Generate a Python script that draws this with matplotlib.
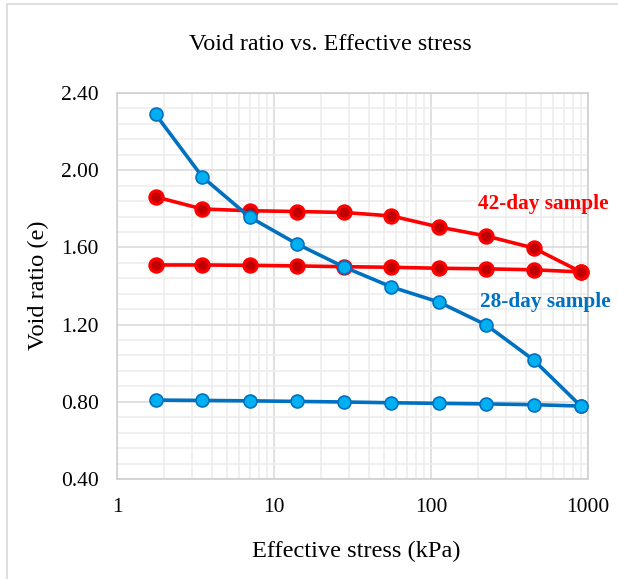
import matplotlib
matplotlib.use("Agg")
import matplotlib.pyplot as plt
from matplotlib.ticker import MultipleLocator, FixedLocator, NullFormatter, FixedFormatter
from matplotlib.patches import Rectangle

plt.rcParams['font.family'] = ['Liberation Serif', 'DejaVu Serif']

# Data
stress = [1.76, 3.5, 7, 14, 28, 56, 112, 225, 450, 900]
e28_load = [2.29, 1.965, 1.757, 1.618, 1.498, 1.395, 1.317, 1.198, 1.017, 0.778]
e28_unload = [0.809, 0.807, 0.805, 0.802, 0.799, 0.795, 0.792, 0.789, 0.785, 0.778]
e42_load = [1.862, 1.799, 1.79, 1.786, 1.781, 1.763, 1.706, 1.659, 1.597, 1.473]
e42_unload = [1.509, 1.509, 1.507, 1.504, 1.500, 1.497, 1.492, 1.489, 1.484, 1.473]

title = "Void ratio vs. Effective stress"
xlabel = "Effective stress (kPa)"
ylabel = "Void ratio (e)"
label42 = "42-day sample"
label28 = "28-day sample"

W, H = 618, 579
fig = plt.figure(figsize=(W/100, H/100), dpi=100)
fig.patches.append(Rectangle((7/W, -0.1), 1.2, 1 - 4/H + 0.1, transform=fig.transFigure,
                             fill=False, edgecolor='#d9d9d9', linewidth=1.2))

ax = fig.add_axes([117/W, 1 - 479/H, (588-117)/W, (479-93)/H])
ax.set_xscale('log')
ax.set_xlim(1, 1000)
ax.set_ylim(0.40, 2.40)

ax.yaxis.set_major_locator(MultipleLocator(0.4))
ax.yaxis.set_minor_locator(MultipleLocator(0.08))
ax.yaxis.set_major_formatter(matplotlib.ticker.FuncFormatter(lambda v, p: f"{v:.2f}"))
ax.xaxis.set_major_locator(FixedLocator([1, 10, 100, 1000]))
ax.xaxis.set_major_formatter(FixedFormatter(['1', '10', '100', '1000']))
ax.xaxis.set_minor_locator(matplotlib.ticker.LogLocator(base=10, subs=range(2, 10)))
ax.xaxis.set_minor_formatter(NullFormatter())

ax.grid(which='major', color='#d9d9d9', linewidth=1.1, zorder=0)
ax.grid(which='minor', color='#ececec', linewidth=1.1, zorder=0)
ax.set_axisbelow(True)
for s in ax.spines.values():
    s.set_color('#d0d0d0')
    s.set_linewidth(1.2)
ax.tick_params(which='both', length=0)
ax.tick_params(axis='y', labelsize=15.5, pad=13)
ax.tick_params(axis='x', labelsize=15.5, pad=14)

x_all = stress + stress[::-1]
ax.plot(x_all, e42_load + e42_unload[::-1], color='#ff0000', linewidth=2.6,
        marker='o', markersize=9.5, markerfacecolor='#c00000', markeredgecolor='#ff0000',
        markeredgewidth=2.3, zorder=3, clip_on=False)
ax.plot(x_all, e28_load + e28_unload[::-1], color='#0070c0', linewidth=2.6,
        marker='o', markersize=9.3, markerfacecolor='#00b0f0', markeredgecolor='#0070c0',
        markeredgewidth=1.2, zorder=4, clip_on=False)

ax.text(200, 1.825, label42, color='#ff0000', fontsize=15.3, fontweight='bold', va='center', ha='left')
ax.text(205, 1.317, label28, color='#0070c0', fontsize=15.3, fontweight='bold', va='center', ha='left')

fig.text(330/W, 1 - 45/H, title, fontsize=17.4, ha='center', va='center')
fig.text(356/W, 1 - 551/H, xlabel, fontsize=17.6, ha='center', va='center')
fig.text(38/W, 1 - 285/H, ylabel, fontsize=17.6, ha='center', va='center', rotation=90)

fig.savefig('out.png', dpi=100, facecolor='white')
